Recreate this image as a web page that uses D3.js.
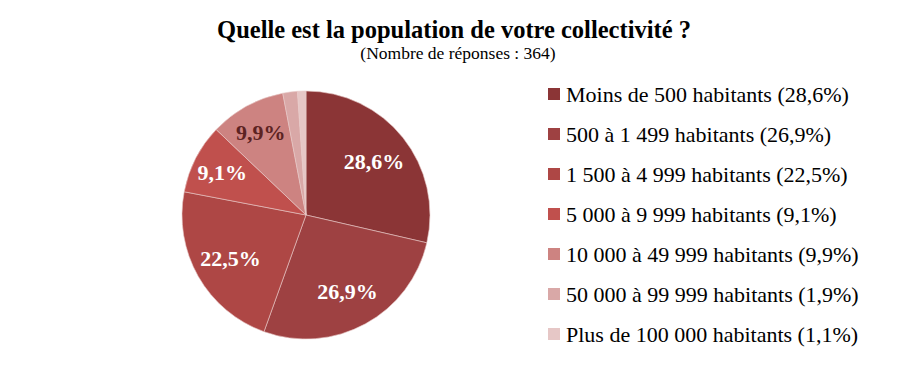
<!DOCTYPE html>
<html>
<head>
<meta charset="utf-8">
<script src="https://cdn.jsdelivr.net/npm/d3@7"></script>
<style>
  body { margin: 0; background: #fff; }
  svg text { font-family: "Liberation Serif", "DejaVu Serif", serif; }
</style>
</head>
<body>
<svg id="chart" width="907" height="382"></svg>
<script>
// categories + values
const categories = [
  "Moins de 500 habitants",
  "500 à 1 499 habitants",
  "1 500 à 4 999 habitants",
  "5 000 à 9 999 habitants",
  "10 000 à 49 999 habitants",
  "50 000 à 99 999 habitants",
  "Plus de 100 000 habitants"
]
const values = [28.6, 26.9, 22.5, 9.1, 9.9, 1.9, 1.1]
const colors = ["#8b3536", "#9e4142", "#ae4745", "#c0504d", "#cd8381", "#d9a8a7", "#e6c7c6"]
const title = "Quelle est la population de votre collectivité ?"
const subtitle = "(Nombre de réponses : 364)"

const fmt = v => d3.format(".1f")(v).replace(".", ",") + "%"

const svg = d3.select("#chart")
const cx = 306, cy = 215, r = 124

svg.append("text")
  .attr("x", 454).attr("y", 38)
  .attr("text-anchor", "middle")
  .style("font-size", "24.5px").style("font-weight", "bold")
  .text(title)

svg.append("text")
  .attr("x", 458).attr("y", 59)
  .attr("text-anchor", "middle")
  .style("font-size", "17.5px")
  .text(subtitle)

const pie = d3.pie().sort(null).value(d => d)
const arc = d3.arc().innerRadius(0).outerRadius(r)
const arcs = pie(values)

const g = svg.append("g").attr("transform", `translate(${cx},${cy})`)

g.selectAll("path")
  .data(arcs)
  .enter()
  .append("path")
  .attr("d", arc)
  .attr("fill", (d, i) => colors[i])
  .attr("stroke", "#e8c9c8")
  .attr("stroke-width", 0.6)

// labels: big slices a bit nearer the centre
g.selectAll("text.pct")
  .data(arcs.filter(d => d.value > 5))
  .enter()
  .append("text")
  .attr("class", "pct")
  .attr("transform", d => {
    const k = d.value > 15 ? 0.7 : 0.76
    const a = (d.startAngle + d.endAngle) / 2
    return `translate(${Math.sin(a) * r * k},${-Math.cos(a) * r * k})`
  })
  .attr("text-anchor", "middle")
  .attr("dy", "0.35em")
  .style("font-size", "22px").style("font-weight", "bold")
  .style("fill", d => d.index === 4 ? "#5c2222" : "#fff")
  .text(d => fmt(d.value))

// legend
const ly = d3.scalePoint().domain(categories).range([94, 334])
const leg = svg.selectAll("g.leg")
  .data(categories)
  .enter()
  .append("g")
  .attr("class", "leg")
  .attr("transform", d => `translate(548,${ly(d)})`)

leg.append("rect")
  .attr("x", 0).attr("y", -6)
  .attr("width", 12).attr("height", 12)
  .attr("fill", (d, i) => colors[i])

leg.append("text")
  .attr("x", 18).attr("dy", "0.35em")
  .style("font-size", "22px")
  .text((d, i) => `${d} (${fmt(values[i])})`)
</script>
</body>
</html>
